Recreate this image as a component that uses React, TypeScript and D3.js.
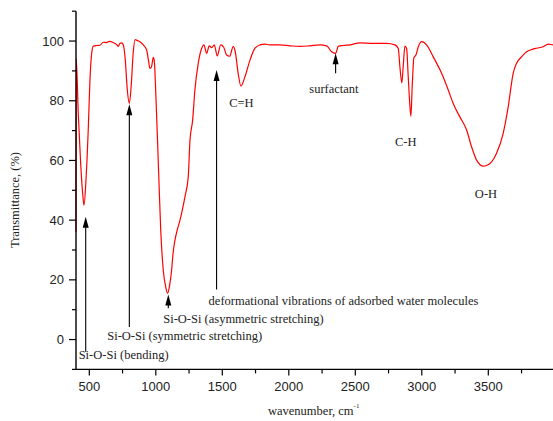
import React from "react";
import * as d3 from "d3";

// ---- data ----
const wavenumber = [
  400, 402, 417, 435, 450, 460, 475, 492, 505, 518, 530, 555, 580, 605, 630, 650, 680, 706, 718, 730,
  743, 756, 770, 785, 801, 815, 830, 845, 856, 870, 881, 906, 931, 945, 956, 968, 981, 988, 1001, 1019,
  1037, 1056, 1075, 1089, 1105, 1119, 1130, 1144, 1160, 1182, 1200, 1219, 1244, 1257, 1277, 1294, 1319,
  1345, 1362, 1382, 1402, 1421, 1440, 1462, 1488, 1510, 1532, 1555, 1582, 1597, 1620, 1640, 1670, 1708,
  1746, 1783, 1821, 1858, 1933, 2009, 2084, 2159, 2234, 2285, 2322, 2352, 2372, 2409, 2459, 2535, 2635,
  2735, 2798, 2823, 2836, 2850, 2861, 2873, 2886, 2898, 2908, 2918, 2928, 2941, 2956, 2973, 2999, 3036,
  3086, 3149, 3199, 3236, 3286, 3337, 3374, 3412, 3440, 3462, 3490, 3512, 3540, 3562, 3612, 3650, 3687,
  3712, 3750, 3788, 3830, 3863, 3913, 3950, 3988, 4000,
];
const transmittance = [
  36, 94, 75.8, 59, 49, 45, 53.4, 70.2, 87, 95.9, 98.3, 98.5, 98.6, 99.6, 99.5, 99.9, 99.5, 98.8, 98.2, 99.2,
  99.4, 98.7, 94, 84, 79.1, 85, 96, 100.5, 100.3, 100, 99.8, 98.7, 97.0, 93.5, 90.8, 91.4, 94.5, 93.6, 81.3, 59,
  36.7, 23.3, 17.5, 15.5, 18.5, 23.3, 29, 33.3, 36.5, 40, 43.5, 47.8, 54.5, 66.8, 73.5, 83.6, 92.5,
  97.6, 98.7, 95.9, 98.4, 97.8, 98.7, 95, 98.7, 98, 95.3, 94.9, 98.1, 96.5, 89, 84.9, 88, 93.6,
  97.6, 98.7, 99, 98.7, 98.7, 98.4, 98.2, 98.4, 98.7, 98.4, 96.4, 95.9, 98.2, 98.5, 98.7, 99.4, 99.2,
  99.2, 98.7, 97.5, 91, 86, 92, 98.3, 97.5, 88, 80, 74.8, 85, 94.5, 95.3, 98, 99.8, 98.7,
  94.7, 89.2, 83.6, 79.1, 74.6, 70.2, 64.6, 60.1, 58.5, 58.1, 58.4, 59, 60.5, 62.4, 69.1, 78, 89.2,
  92.5, 94.7, 96.4, 97.2, 97.6, 98.1, 99, 98.7, 98.9,
];
const xTicks = [500, 1000, 1500, 2000, 2500, 3000, 3500];
const xMinorTicks = [750, 1250, 1750, 2250, 2750, 3250, 3750];
const yTicks = [0, 20, 40, 60, 80, 100];
const yMinorTicks = [-10, 10, 30, 50, 70, 90, 110];

// arrows: wavenumber, tip transmittance, tail transmittance
const arrowWn = [473, 801, 1094, 1457, 2352];
const arrowTip = [41.1, 78.8, 15.1, 90.3, 95.9];
const arrowTail = [-4.1, 4.2, 10.5, 16.8, 89.2];

const labelTexts = [
  "Si-O-Si (bending)",
  "Si-O-Si (symmetric stretching)",
  "Si-O-Si (asymmetric stretching)",
  "deformational vibrations of adsorbed water molecules",
  "surfactant",
  "C=H",
  "C-H",
  "O-H",
];
// label positions (wavenumber of text start, transmittance of baseline)
const labelWn = [420, 635, 1056, 1397, 2154, 1552, 2798, 3399];
const labelT = [-6.5, -0.2, 5.5, 11.5, 82.6, 77.9, 64.8, 47.4];

const W = 553;
const H = 421;

export default function App() {
  const x = d3.scaleLinear().domain([400, 4000]).range([76, 554.8]);
  const y = d3.scaleLinear().domain([-10, 110]).range([369.4, 11.2]);

  const pts: [number, number][] = wavenumber.map((w, i) => [w, transmittance[i]]);
  const line = d3
    .line<[number, number]>()
    .x((d) => x(d[0]))
    .y((d) => y(d[1]))
    .curve(d3.curveMonotoneX);

  const x0 = x(400);
  const y0 = y(-10);
  const sans = "'Liberation Sans', Arial, sans-serif";
  const serif = "'Liberation Serif', 'DejaVu Serif', serif";

  return (
    <svg
      width={W}
      height={H}
      style={{ position: "absolute", left: 0, top: 0, background: "#fff" }}
    >
      <defs>
        <clipPath id="plotclip">
          <rect x={x0 - 1} y={y(110)} width={W - x0 + 2} height={y0 - y(110)} />
        </clipPath>
      </defs>
      <rect x={0} y={0} width={W} height={H} fill="#fff" />

      {/* spectrum */}
      <path
        d={line(pts) || ""}
        fill="none"
        stroke="#ff0000"
        strokeWidth={1.2}
        clipPath="url(#plotclip)"
      />

      {/* axes */}
      <line x1={x0} x2={x0} y1={y(110)} y2={y0} stroke="#000" strokeWidth={1.4} />
      <line x1={x0} x2={W} y1={y0} y2={y0} stroke="#000" strokeWidth={1.4} />
      {yTicks.map((t) => (
        <g key={"yt" + t}>
          <line x1={x0 - 7} x2={x0} y1={y(t)} y2={y(t)} stroke="#000" strokeWidth={1.2} />
          <text
            x={x0 - 12}
            y={y(t)}
            textAnchor="end"
            dominantBaseline="central"
            fontFamily={sans}
            fontSize={13}
            fill="#222"
          >
            {t}
          </text>
        </g>
      ))}
      {yMinorTicks.map((t) => (
        <line key={"ym" + t} x1={x0 - 4} x2={x0} y1={y(t)} y2={y(t)} stroke="#000" strokeWidth={1.2} />
      ))}
      {xTicks.map((t) => (
        <g key={"xt" + t}>
          <line x1={x(t)} x2={x(t)} y1={y0} y2={y0 + 6} stroke="#000" strokeWidth={1.2} />
          <text
            x={x(t)}
            y={391}
            textAnchor="middle"
            fontFamily={sans}
            fontSize={13}
            fill="#222"
          >
            {t}
          </text>
        </g>
      ))}
      {xMinorTicks.map((t) => (
        <line key={"xm" + t} x1={x(t)} x2={x(t)} y1={y0} y2={y0 + 4} stroke="#000" strokeWidth={1.2} />
      ))}

      {/* axis titles */}
      <text
        transform={`translate(18.5,200) rotate(-90)`}
        textAnchor="middle"
        fontFamily={serif}
        fontSize={12.5}
        fill="#222"
      >
        Transmittance, (%)
      </text>
      <text x={268} y={415} fontFamily={serif} fontSize={12.5} fill="#222">
        wavenumber, cm
        <tspan fontSize={7} dy={-7}>
          -1
        </tspan>
      </text>

      {/* arrows */}
      {arrowWn.map((w, i) => {
        const ax = x(w);
        const tip = y(arrowTip[i]);
        const tail = y(arrowTail[i]);
        return (
          <g key={"ar" + i}>
            <line x1={ax} x2={ax} y1={tip + 8} y2={tail} stroke="#000" strokeWidth={1.1} />
            <path
              d={`M${ax},${tip} L${ax - 3},${tip + 11} L${ax + 3},${tip + 11} Z`}
              fill="#000"
            />
          </g>
        );
      })}

      {/* annotations */}
      {labelTexts.map((t, i) => (
        <text
          key={"lb" + i}
          x={x(labelWn[i])}
          y={y(labelT[i])}
          fontFamily={serif}
          fontSize={12.5}
          fill="#222"
        >
          {t}
        </text>
      ))}
    </svg>
  );
}
